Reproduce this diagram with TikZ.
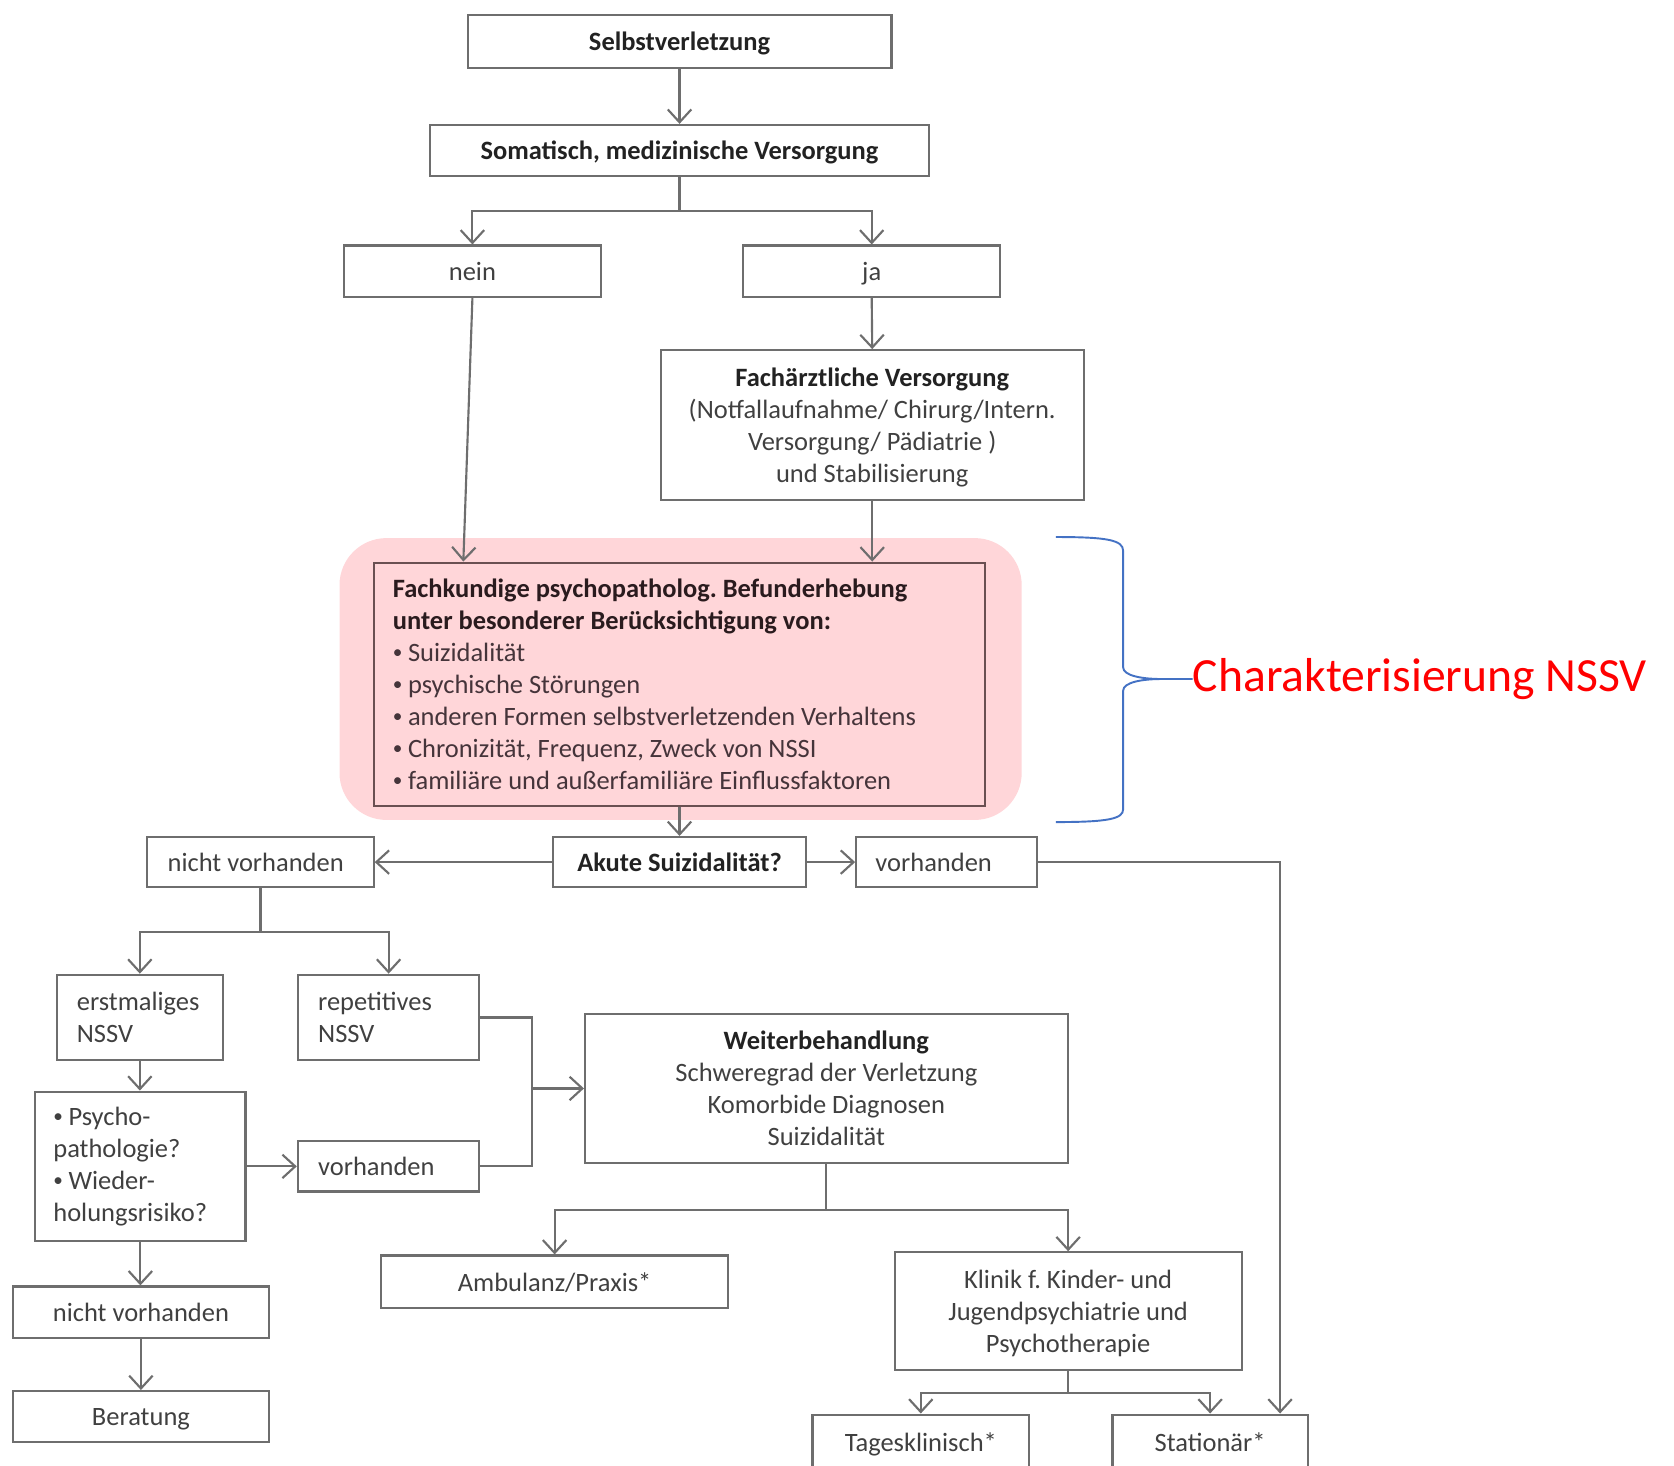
\documentclass[tikz,border=0pt]{standalone}
\usepackage{fontspec}
\setmainfont{Carlito}
\frenchspacing
\usetikzlibrary{arrows.meta,calc}
\definecolor{linegrey}{HTML}{6E6E6E}
\definecolor{txtgrey}{HTML}{404040}
\definecolor{boldgrey}{HTML}{222222}
\definecolor{pinkfill}{HTML}{FFD6D9}
\definecolor{pinkline}{HTML}{6A5052}
\definecolor{pinktext}{HTML}{45343A}
\definecolor{pinkbold}{HTML}{2A1B1E}
\definecolor{braceblue}{HTML}{4472C4}
\definecolor{labelred}{HTML}{FF0000}
% small list bullet
\newcommand\smallbullet{\raisebox{0.12em}{\fontsize{9}{9}\selectfont•}\hspace{2.6pt}}
\begin{document}
\begin{tikzpicture}[x=0.5pt,y=-0.5pt,
  every node/.style={font=\fontsize{12.4}{15}\selectfont, text=txtgrey},
  bf/.style={font=\fontsize{12.4}{15}\selectfont\bfseries, text=boldgrey},
  box/.style 2 args={draw=linegrey, line width=1pt, minimum width={#1*0.5pt},
    minimum height={#2*0.5pt}, inner sep=0pt, align=center, text depth=0pt},
  lbox/.style 2 args={draw=linegrey, line width=1pt, minimum width={#1*0.5pt},
    minimum height={#2*0.5pt}, inner xsep=9.5pt, inner ysep=0pt, align=flush left},
  oneline/.style={text depth=0pt},
  link/.style={draw=linegrey, line width=1pt},
  arr/.style={link, -{Straight Barb[length=6pt,width=11pt]}},
  brace/.style={draw=braceblue, line width=0.9pt},
]
\useasboundingbox (0,0) rectangle (1568,1373);
\clip (0,0) rectangle (1568,1373);

% highlighted area behind the assessment box
\fill[pinkfill, rounded corners=22pt] (318,504) rectangle (957,768);

% top part
\node[box={397}{50}, bf] (sv) at (636.5,39) {Selbstverletzung};
\node[box={467}{48}, bf] (som) at (636.5,141) {Somatisch, medizinische Versorgung};
\node[box={241}{48}] (nein) at (442.5,254) {nein};
\node[box={241}{48}] (ja) at (816.5,254) {ja};
\node[box={396}{140}] (fach) at (817,398)
  {{\color{boldgrey}\bfseries Fachärztliche Versorgung}\\(Notfallaufnahme/ Chirurg/Intern.\\Versorgung/ Pädiatrie )\\und Stabilisierung};

% assessment
\node[lbox={573}{228}, draw=pinkline, text=pinktext, inner xsep=9pt, text width=268.5pt] (befund) at (636.5,641)
  {{\color{pinkbold}\bfseries Fachkundige psychopatholog. Befunderhebung}\\
   {\color{pinkbold}\bfseries unter besonderer Berücksichtigung von:}\\
   \smallbullet Suizidalität\\
   \smallbullet psychische Störungen\\
   \smallbullet anderen Formen selbstverletzenden Verhaltens\\
   \smallbullet Chronizität, Frequenz, Zweck von NSSI\\
   \smallbullet familiäre und außerfamiliäre Einflussfaktoren};

% suicidality branch
\node[box={237}{47}, bf] (akute) at (636.5,807.5) {Akute Suizidalität?};
\node[lbox={212}{47}, oneline, text width=87pt] (nvA) at (244,807.5) {nicht vorhanden};
\node[lbox={169}{47}, oneline, inner xsep=9pt, text width=66.5pt] (vhA) at (886.5,807.5) {vorhanden};

% left side
\node[lbox={156}{80}, text width=59pt] (erst) at (131,953) {erstmaliges\\NSSV};
\node[lbox={170}{80}, text width=66pt] (rep) at (364,953) {repetitives\\NSSV};
\node[lbox={197}{140}, inner xsep=8.5pt, text width=81.5pt] (psy) at (131.5,1092.5)
  {\smallbullet Psycho-\\pathologie?\\\smallbullet Wieder-\\holungsrisiko?};
\node[lbox={170}{47}, oneline, text width=66pt] (vhB) at (364,1092.5) {vorhanden};
\node[box={240}{48}] (nvB) at (132,1229) {nicht vorhanden};
\node[box={240}{48}] (ber) at (132,1327) {Beratung};

% further treatment
\node[box={452}{139}] (weiter) at (774,1019.5)
  {{\color{boldgrey}\bfseries Weiterbehandlung}\\Schweregrad der Verletzung\\Komorbide Diagnosen\\Suizidalität};
\node[box={325}{49}] (amb) at (519.5,1200.5) {Ambulanz/Praxis*};
\node[box={325}{110}] (klinik) at (1000.5,1228)
  {Klinik f. Kinder- und\\Jugendpsychiatrie und\\Psychotherapie};
\node[box={203}{52}] (tag) at (862.5,1351) {Tagesklinisch*};
\node[box={183}{52}] (stat) at (1133.5,1351) {Stationär*};

% connectors
\draw[arr] (sv.south) -- (som.north);
\draw[arr] (som.south) -- ++(0,32) -| (nein.north);
\draw[arr] (som.south) -- ++(0,32) -| (ja.north);
\draw[arr] (ja.south) -- (fach.north);
\draw[arr] (nein.south) -- ($(befund.north west)+(85,0)$);
\draw[arr] (fach.south) -- (fach.south |- befund.north);
\draw[arr] (befund.south) -- (akute.north);
\draw[arr] (akute.west) -- (nvA.east);
\draw[arr] (akute.east) -- (vhA.west);
\draw[arr] (vhA.east) -| ($(stat.north east)+(-27,0)$);
\draw[arr] (nvA.south) -- ++(0,41) -| (erst.north);
\draw[arr] (nvA.south) -- ++(0,41) -| (rep.north);
\draw[arr] (erst.south) -- (erst.south |- psy.north);
\draw[arr] (psy.east) -- (vhB.west);
\coordinate (jw) at (498,1019.5);
\draw[link] (rep.east) -| (jw);
\draw[link] (vhB.east) -| (jw);
\draw[arr] (jw) -- (weiter.west);
\draw[arr] (psy.south) -- (psy.south |- nvB.north);
\draw[arr] (nvB.south) -- (ber.north);
\draw[arr] (weiter.south) -- ++(0,43) -| (amb.north);
\draw[arr] (weiter.south) -- ++(0,43) -| (klinik.north);
\draw[arr] (klinik.south) -- ++(0,21) -| (tag.north);
\draw[arr] (klinik.south) -- ++(0,21) -| (stat.north);

% brace and its label
\node[anchor=west, inner sep=0pt, font=\fontsize{22.3}{27}\selectfont, text=labelred] (charlbl) at (1117,636)
  {Charakterisierung NSSV};
\draw[brace] (989,503) .. controls (1038,503) and (1052,506) .. (1052,516)
  -- (1052,625) .. controls (1052,633) and (1070,636) .. (1088,636) -- (charlbl.west);
\draw[brace] (1088,636) .. controls (1070,636) and (1052,639) .. (1052,647)
  -- (1052,758) .. controls (1052,767) and (1038,770) .. (989,770);
\end{tikzpicture}
\end{document}
